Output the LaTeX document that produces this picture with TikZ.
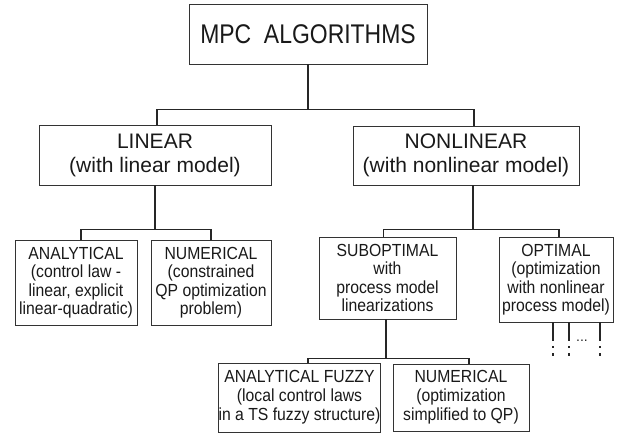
\documentclass[tikz,border=0pt]{standalone}
\usepackage{fontspec}
\setmainfont{Liberation Sans}
\newfontfamily\condA[FakeStretch=0.85]{Liberation Sans}
\newfontfamily\condB[FakeStretch=0.9]{Liberation Sans}
\begin{document}
\begin{tikzpicture}[x=1pt,y=-1pt,
  box/.style={draw=black!80, line width=0.8pt, align=center, inner sep=0pt, text=black!90},
  lvlone/.style={box, font=\condA\fontsize{27}{30}\selectfont},
  lvltwo/.style={box, font=\fontsize{21}{24}\selectfont},
  lvlthree/.style={box, font=\condB\fontsize{17.5}{18.5}\selectfont},
  lvlfour/.style={box, font=\condB\fontsize{17.5}{19}\selectfont},
  conn/.style={line width=1.6pt, black!85},
  stub/.style={line width=1.6pt, black!85, dash pattern=on 2.5pt off 5pt}]
\useasboundingbox (0,0) rectangle (618,435);
\node[lvlone, minimum width=238, minimum height=60] (top) at (308,34) {MPC\ \ ALGORITHMS};
\node[lvltwo, minimum width=232, minimum height=60] (lin) at (155,155) {LINEAR\\(with linear model)};
\node[lvltwo, minimum width=226, minimum height=59] (nl) at (466,155.5) {NONLINEAR\\(with nonlinear model)};
\node[lvlthree, minimum width=122, minimum height=85] (an) at (76,282.5) {ANALYTICAL\\(control law -\\linear, explicit\\linear-quadratic)};
\node[lvlthree, minimum width=120, minimum height=85] (nu) at (211,282.5) {NUMERICAL\\(constrained\\QP optimization\\problem)};
\node[lvlthree, minimum width=137, minimum height=82] (sub) at (387.5,278) {SUBOPTIMAL\\with\\process model\\linearizations};
\node[lvlthree, minimum width=114, minimum height=85] (opt) at (556,279.5) {OPTIMAL\\(optimization\\with nonlinear\\process model)};
\node[lvlfour, minimum width=161, minimum height=69] (af) at (299.5,397.5) {ANALYTICAL FUZZY\\(local control laws\\in a TS fuzzy structure)};
\node[lvlfour, minimum width=136, minimum height=67] (n2) at (461,397.5) {NUMERICAL\\(optimization\\simplified to QP)};
% connectors
\draw[conn] (top.south) -- ++(0,45) coordinate (j0);
\draw[conn] ([xshift=2pt]lin.north) |- (j0) -| ([xshift=8pt]nl.north);
\draw[conn] (lin.south) -- ++(0,44) coordinate (j1);
\draw[conn] ([xshift=5pt]an.north) |- (j1) -| (nu.north);
\draw[conn] ([xshift=7pt]nl.south) -- ++(0,44) coordinate (j2);
\draw[conn] ([xshift=-4pt]sub.north) |- (j2) -| ([xshift=3pt]opt.north);
\draw[conn] ([xshift=-1.5pt]sub.south) -- ++(0,39) coordinate (j3);
\draw[conn] ([xshift=8.5pt]af.north) |- (j3) -| ([xshift=8pt]n2.north);
% stubs from OPTIMAL
\draw[conn] ([xshift=-3pt]opt.south) -- ++(0,16) coordinate (s1);
\draw[conn] ([xshift=13pt]opt.south) -- ++(0,16) coordinate (s2);
\draw[conn] ([xshift=44pt]opt.south) -- ++(0,16) coordinate (s3);
\draw[stub] (s1) -- ++(0,22);
\draw[stub] (s2) -- ++(0,22);
\draw[stub] (s3) -- ++(0,22);
\node[font=\fontsize{14}{14}\selectfont, text=black!85, inner sep=0pt] (dots) at (582,341) {...};
\end{tikzpicture}
\end{document}
